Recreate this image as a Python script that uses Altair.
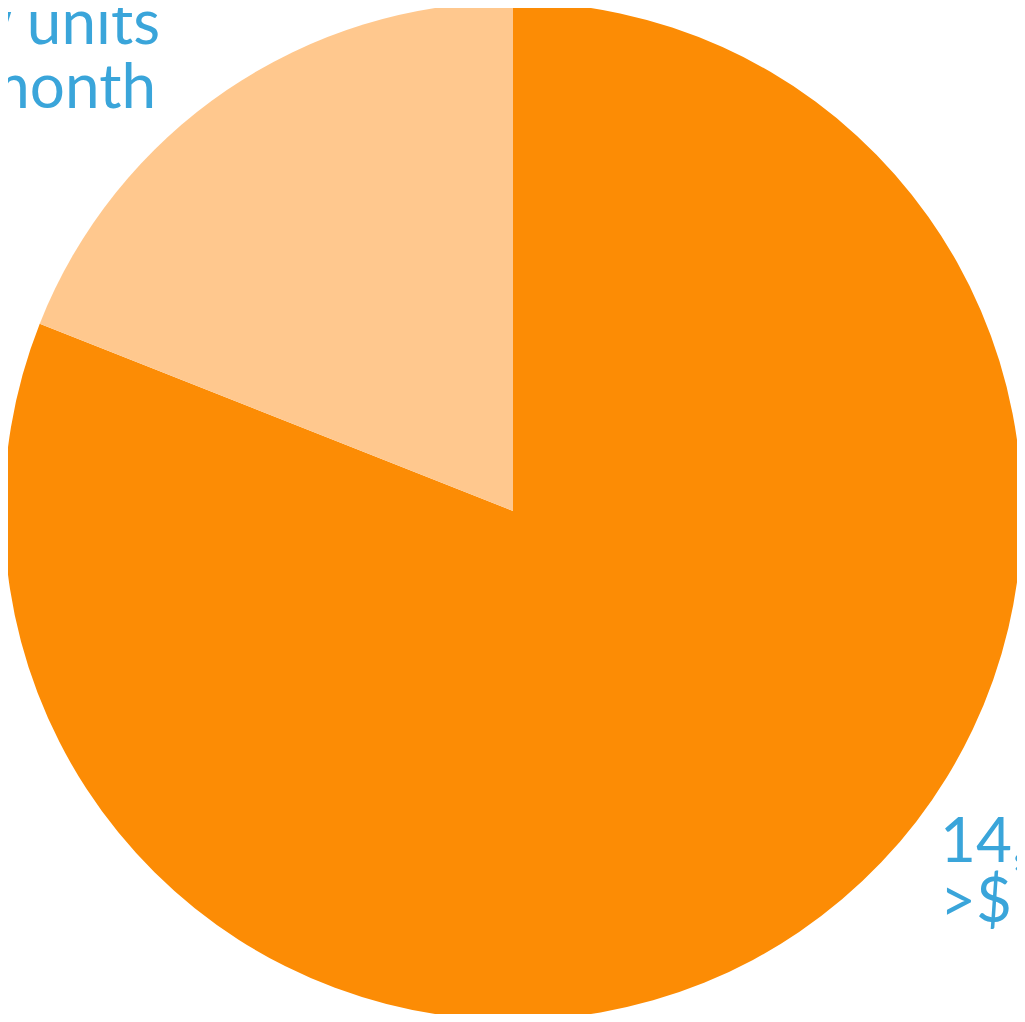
import altair as alt
import pandas as pd

segments = ["14,200 new units >$1,000/month", "3,300 new units <$1,000/month"]
shares = [81.0, 19.0]
colors = ["#FC8C05", "#FFC88E"]

label_lines = ["3,300 new units", "<$1,000/month", "14,200 new units", ">$1,000/month"]
label_x = [152, 148, 932, 932]
label_y = [36, 100, 854, 914]
label_align = ["right", "right", "left", "left"]

pie_df = pd.DataFrame({"segment": segments, "share": shares, "order": [0, 1]})
lab_df = pd.DataFrame({"text": label_lines, "x": label_x, "y": label_y, "align": label_align})

W, H = 1009, 1006

pie = alt.Chart(pie_df).mark_arc(radius=509).encode(
    theta=alt.Theta("share:Q", stack=True),
    order=alt.Order("order:Q"),
    color=alt.Color("segment:N", scale=alt.Scale(domain=segments, range=colors), legend=None),
    x=alt.value(505),
    y=alt.value(503),
)

xs = alt.Scale(domain=[0, W], range=[0, W])
ys = alt.Scale(domain=[0, H], range=[0, H])

right_labels = alt.Chart(lab_df).transform_filter(alt.datum.align == "right").mark_text(
    align="right", baseline="alphabetic", font="Lato", fontSize=62, color="#3AA5DA"
).encode(
    x=alt.X("x:Q", scale=xs, axis=None),
    y=alt.Y("y:Q", scale=ys, axis=None),
    text="text:N",
)
left_labels = alt.Chart(lab_df).transform_filter(alt.datum.align == "left").mark_text(
    align="left", baseline="alphabetic", font="Lato", fontSize=62, color="#3AA5DA"
).encode(
    x=alt.X("x:Q", scale=xs, axis=None),
    y=alt.Y("y:Q", scale=ys, axis=None),
    text="text:N",
)

chart = alt.layer(pie, right_labels, left_labels).properties(
    width=W, height=H, padding=0, autosize=alt.AutoSizeParams(type="none")
).configure_view(stroke=None)

chart.save("out.html", embed_options={"renderer": "svg", "actions": False})
